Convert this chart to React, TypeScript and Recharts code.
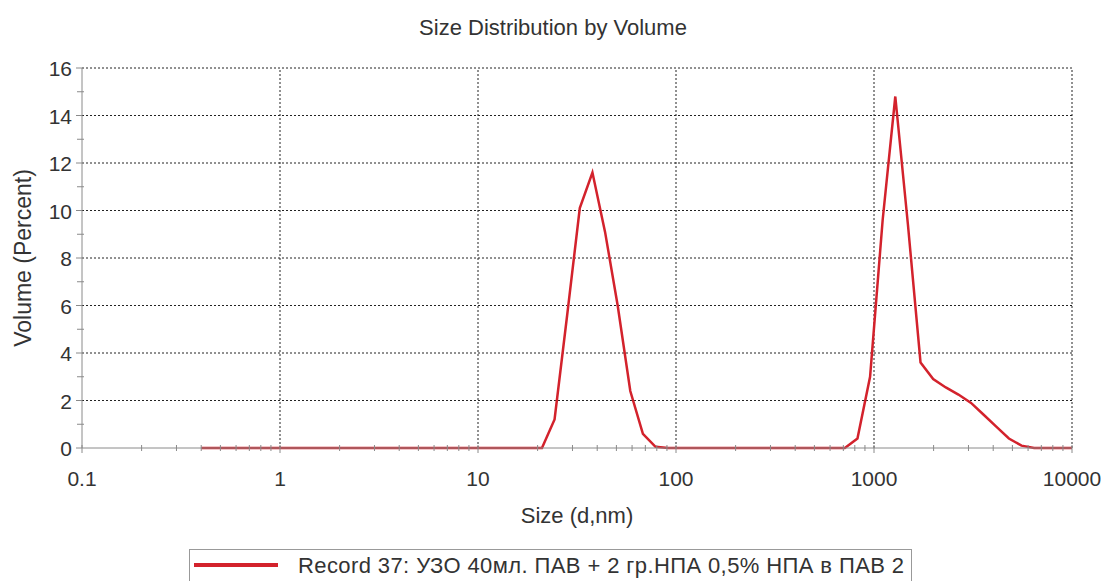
import {
  LineChart,
  Line,
  XAxis,
  YAxis,
  Legend,
  Label,
  ReferenceLine,
} from "recharts";

// Zetasizer size classes (d.nm)
const sizes = [
  0.4, 0.4632, 0.5365, 0.6213, 0.7195, 0.8332, 0.9649, 1.117, 1.294, 1.499,
  1.736, 2.01, 2.328, 2.696, 3.122, 3.615, 4.187, 4.849, 5.615, 6.503, 7.531,
  8.721, 10.1, 11.7, 13.54, 15.69, 18.17, 21.04, 24.36, 28.21, 32.67, 37.84,
  43.82, 50.75, 58.77, 68.06, 78.82, 91.28, 105.7, 122.4, 141.8, 164.2, 190.1,
  220.2, 255, 295.3, 342, 396.1, 458.7, 531.2, 615.1, 712.4, 825, 955.4, 1106,
  1281, 1484, 1718, 1990, 2305, 2669, 3091, 3580, 4145, 4801, 5560, 6439, 7456,
  8635, 10000,
];

// Volume (%) per class, record 37
const volume = [
  0, 0, 0, 0, 0, 0, 0, 0, 0, 0,
  0, 0, 0, 0, 0, 0, 0, 0, 0, 0, 0,
  0, 0, 0, 0, 0, 0, 0, 1.2, 5.6, 10.1, 11.6,
  9.1, 6.0, 2.4, 0.6, 0.05, 0, 0, 0, 0, 0, 0,
  0, 0, 0, 0, 0, 0, 0, 0, 0, 0.4, 3.0, 9.6,
  14.8, 9.4, 3.6, 2.9, 2.55, 2.25, 1.9, 1.4, 0.9, 0.4, 0.1, 0, 0,
  0, 0,
];

const xMajor = [0.1, 1, 10, 100, 1000, 10000];
const xMinorSteps = [2, 3, 4, 5, 6, 7, 8, 9];
const yTicks = [0, 1, 2, 3, 4, 5, 6, 7, 8, 9, 10, 11, 12, 13, 14, 15, 16];
const yMajor = [0, 2, 4, 6, 8, 10, 12, 14, 16];

const seriesName = "Record 37: УЗО 40мл. ПАВ + 2 гр.НПА 0,5% НПА в ПАВ 2";

const data = sizes.map((s, i) => ({ size: s, volume: volume[i] }));

const xTicks = [
  ...xMajor,
  ...xMajor.slice(0, -1).flatMap((d) => xMinorSteps.map((m) => d * m)),
].sort((a, b) => a - b);

const FONT = "'Liberation Sans', Arial, sans-serif";
const TEXT = "#333";
const AXIS = "#8a8a8a";
const GRID = "#222";
const RED = "#d3222c";

const XTick = ({ x, y, payload }: any) => {
  const v = payload.value;
  const major = xMajor.some((m) => Math.abs(m - v) / m < 1e-6);
  return (
    <g>
      <line x1={x} x2={x} y1={y - 3} y2={y + (major ? 5 : 3)} stroke={AXIS} />
      {major && (
        <text x={x} y={y + 38} textAnchor="middle" fill={TEXT} fontSize={21} fontFamily={FONT}>
          {String(v)}
        </text>
      )}
    </g>
  );
};

const YTick = ({ x, y, payload }: any) => {
  const v = payload.value;
  const major = yMajor.includes(v);
  return (
    <g>
      <line x1={x - (major ? 6 : 5)} x2={x + (major ? 0 : 2)} y1={y} y2={y} stroke={AXIS} />
      {major && (
        <text x={x - 10} y={y + 8} textAnchor="end" fill={TEXT} fontSize={21} fontFamily={FONT}>
          {v}
        </text>
      )}
    </g>
  );
};

const LegendBox = () => (
  <div
    style={{
      position: "relative",
      width: 723,
      height: 36,
      border: "1px solid #999",
      background: "#fff",
      fontFamily: FONT,
      fontSize: 22,
      letterSpacing: 0.4,
      color: TEXT,
      boxSizing: "border-box",
    }}
  >
    <div style={{ position: "absolute", left: 4, top: 13, width: 84, height: 4, background: RED }} />
    <div style={{ position: "absolute", left: 108, top: 4, whiteSpace: "nowrap", lineHeight: "24px" }}>{seriesName}</div>
  </div>
);

export default function App() {
  return (
    <div style={{ position: "absolute", left: 0, top: 0, width: 1106, height: 581, overflow: "hidden", background: "#fff" }}>
      <div
        style={{
          position: "absolute",
          top: 16,
          left: 0,
          width: 1106,
          textAlign: "center",
          fontFamily: FONT,
          fontSize: 22,
          lineHeight: "24px",
          color: TEXT,
        }}
      >
        Size Distribution by Volume
      </div>
      <LineChart
        width={1106}
        height={581}
        data={data}
        margin={{ top: 68, right: 34, left: 0, bottom: 12 }}
      >
        <XAxis
          dataKey="size"
          type="number"
          scale="log"
          domain={[0.1, 10000]}
          ticks={xTicks}
          interval={0}
          allowDataOverflow
          height={85}
          tickSize={0}
          tickMargin={0}
          tick={<XTick />}
          stroke={AXIS}
        >
          <Label
            value="Size (d,nm)"
            position="insideBottom"
            offset={10}
            style={{ fontFamily: FONT, fontSize: 22, fill: TEXT }}
          />
        </XAxis>
        <YAxis
          type="number"
          domain={[0, 16]}
          ticks={yTicks}
          interval={0}
          width={82}
          tickSize={0}
          tickMargin={0}
          tick={<YTick />}
          stroke={AXIS}
        >
          <Label
            value="Volume (Percent)"
            angle={-90}
            position="insideLeft"
            offset={23}
            style={{ fontFamily: FONT, fontSize: 23, fill: TEXT, textAnchor: "middle" }}
          />
        </YAxis>
        {yMajor.slice(1).map((v) => (
          <ReferenceLine key={"h" + v} y={v} stroke={GRID} strokeDasharray="2 2" />
        ))}
        {xMajor.slice(1).map((v) => (
          <ReferenceLine key={"v" + v} x={v} stroke={GRID} strokeDasharray="2 2" />
        ))}
        <Legend
          verticalAlign="bottom"
          wrapperStyle={{ left: 189, top: 549, width: 723, height: 36 }}
          content={() => <LegendBox />}
        />
        <Line
          type="linear"
          dataKey="volume"
          name={seriesName}
          stroke={RED}
          strokeWidth={2.5}
          dot={false}
          isAnimationActive={false}
        />
      </LineChart>
    </div>
  );
}
